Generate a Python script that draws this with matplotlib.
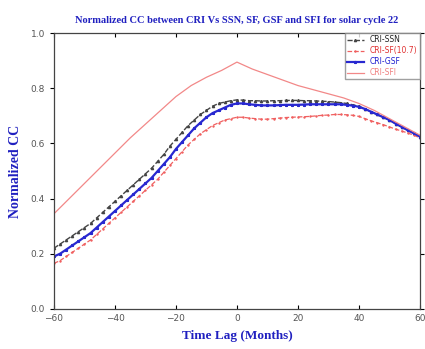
import numpy as np
import matplotlib
matplotlib.use("Agg")
import matplotlib.pyplot as plt

lag = list(range(-60, 61, 2))
ssn = [0.22, 0.235, 0.25, 0.265, 0.28, 0.295, 0.31, 0.33, 0.35, 0.37, 0.39, 0.41, 0.43, 0.45, 0.47, 0.49,
       0.51, 0.535, 0.56, 0.59, 0.615, 0.64, 0.665, 0.685, 0.705, 0.72, 0.735, 0.745, 0.75, 0.755, 0.758,
       0.757, 0.755, 0.755, 0.754, 0.754, 0.755, 0.755, 0.756, 0.756, 0.756, 0.755, 0.755, 0.754, 0.753,
       0.752, 0.75, 0.748, 0.745, 0.74, 0.735, 0.725, 0.715, 0.705, 0.695, 0.685, 0.672, 0.66, 0.648, 0.637, 0.625]
gsf = [0.19, 0.2, 0.215, 0.23, 0.245, 0.26, 0.275, 0.295, 0.315, 0.335, 0.355, 0.375, 0.395, 0.415, 0.435,
       0.455, 0.475, 0.5, 0.525, 0.55, 0.58, 0.605, 0.63, 0.655, 0.675, 0.695, 0.71, 0.72, 0.73, 0.74, 0.745,
       0.745, 0.742, 0.74, 0.738, 0.738, 0.738, 0.739, 0.74, 0.74, 0.74, 0.741, 0.742, 0.742, 0.742, 0.742,
       0.742, 0.742, 0.74, 0.737, 0.733, 0.725, 0.715, 0.705, 0.695, 0.685, 0.672, 0.66, 0.648, 0.637, 0.625]
sf107 = [0.165, 0.175, 0.19, 0.205, 0.22, 0.235, 0.25, 0.27, 0.29, 0.31, 0.33, 0.35, 0.37, 0.39, 0.41, 0.43,
         0.45, 0.47, 0.495, 0.52, 0.545, 0.57, 0.595, 0.615, 0.635, 0.65, 0.665, 0.675, 0.685, 0.69, 0.695,
         0.695, 0.692, 0.69, 0.688, 0.688, 0.69, 0.692, 0.694, 0.695, 0.696, 0.697, 0.698, 0.7, 0.702, 0.703,
         0.705, 0.705, 0.704, 0.702, 0.698, 0.69, 0.682, 0.675, 0.668, 0.66, 0.652, 0.645, 0.638, 0.63, 0.62]
lag_sfi = list(range(-60, 61, 5))
sfi = [0.345, 0.4, 0.455, 0.51, 0.565, 0.62, 0.67, 0.72, 0.77, 0.81, 0.84, 0.865, 0.895,
       0.87, 0.85, 0.83, 0.81, 0.795, 0.78, 0.765, 0.745, 0.72, 0.69, 0.66, 0.63]

fig = plt.figure(figsize=(4.25, 3.49), dpi=100)
ax = fig.add_axes([0.127, 0.115, 0.861, 0.79])

ax.plot(lag, ssn, color="#444444", ls="--", lw=1.0, marker="^", ms=1.6, label="CRI-SSN")
ax.plot(lag, sf107, color="#f06060", ls="--", lw=0.9, marker="+", ms=2.0, label="CRI-SF(10.7)")
ax.plot(lag, gsf, color="#2828d0", ls="-", lw=1.6, marker="*", ms=2.0, label="CRI-GSF")
ax.plot(lag_sfi, sfi, color="#f28888", ls="-", lw=0.9, label="CRI-SFI")

ax.set_xlim(-60, 60)
ax.set_ylim(0, 1.0)
ax.set_xticks(range(-60, 61, 20))
ax.set_yticks(np.arange(0, 1.01, 0.2))
ax.set_yticklabels(["0.0", "0.2", "0.4", "0.6", "0.8", "1.0"])
ax.tick_params(axis="both", labelsize=6.5, labelcolor="#555555", length=3, width=0.8)
ax.tick_params(axis="x", direction="in", top=True, pad=4)
ax.tick_params(axis="y", direction="out", right=True)
ax.tick_params(axis="y", which="both", right=True)
for sp in ax.spines.values():
    sp.set_linewidth(0.9)
    sp.set_color("#444444")

ax.set_title("Normalized CC between CRI Vs SSN, SF, GSF and SFI for solar cycle 22",
             fontsize=7.5, color="#2020c0", fontweight="bold", family="Liberation Serif", pad=7)
ax.set_xlabel("Time Lag (Months)", fontsize=9.5, color="#2020c0", fontweight="bold",
              family="Liberation Serif", labelpad=5)
ax.set_ylabel("Normalized CC", fontsize=10, color="#2020c0", fontweight="bold",
              family="Liberation Serif", labelpad=6)

leg = ax.legend(loc="upper right", fontsize=5.5, frameon=True, fancybox=False, edgecolor="#888888",
                handlelength=2.2, borderpad=0.3, labelspacing=0.25, borderaxespad=0.0)
for t, c in zip(leg.get_texts(), ["#222222", "#e03030", "#2020d0", "#f08080"]):
    t.set_color(c)

fig.savefig("out.png", dpi=100)
